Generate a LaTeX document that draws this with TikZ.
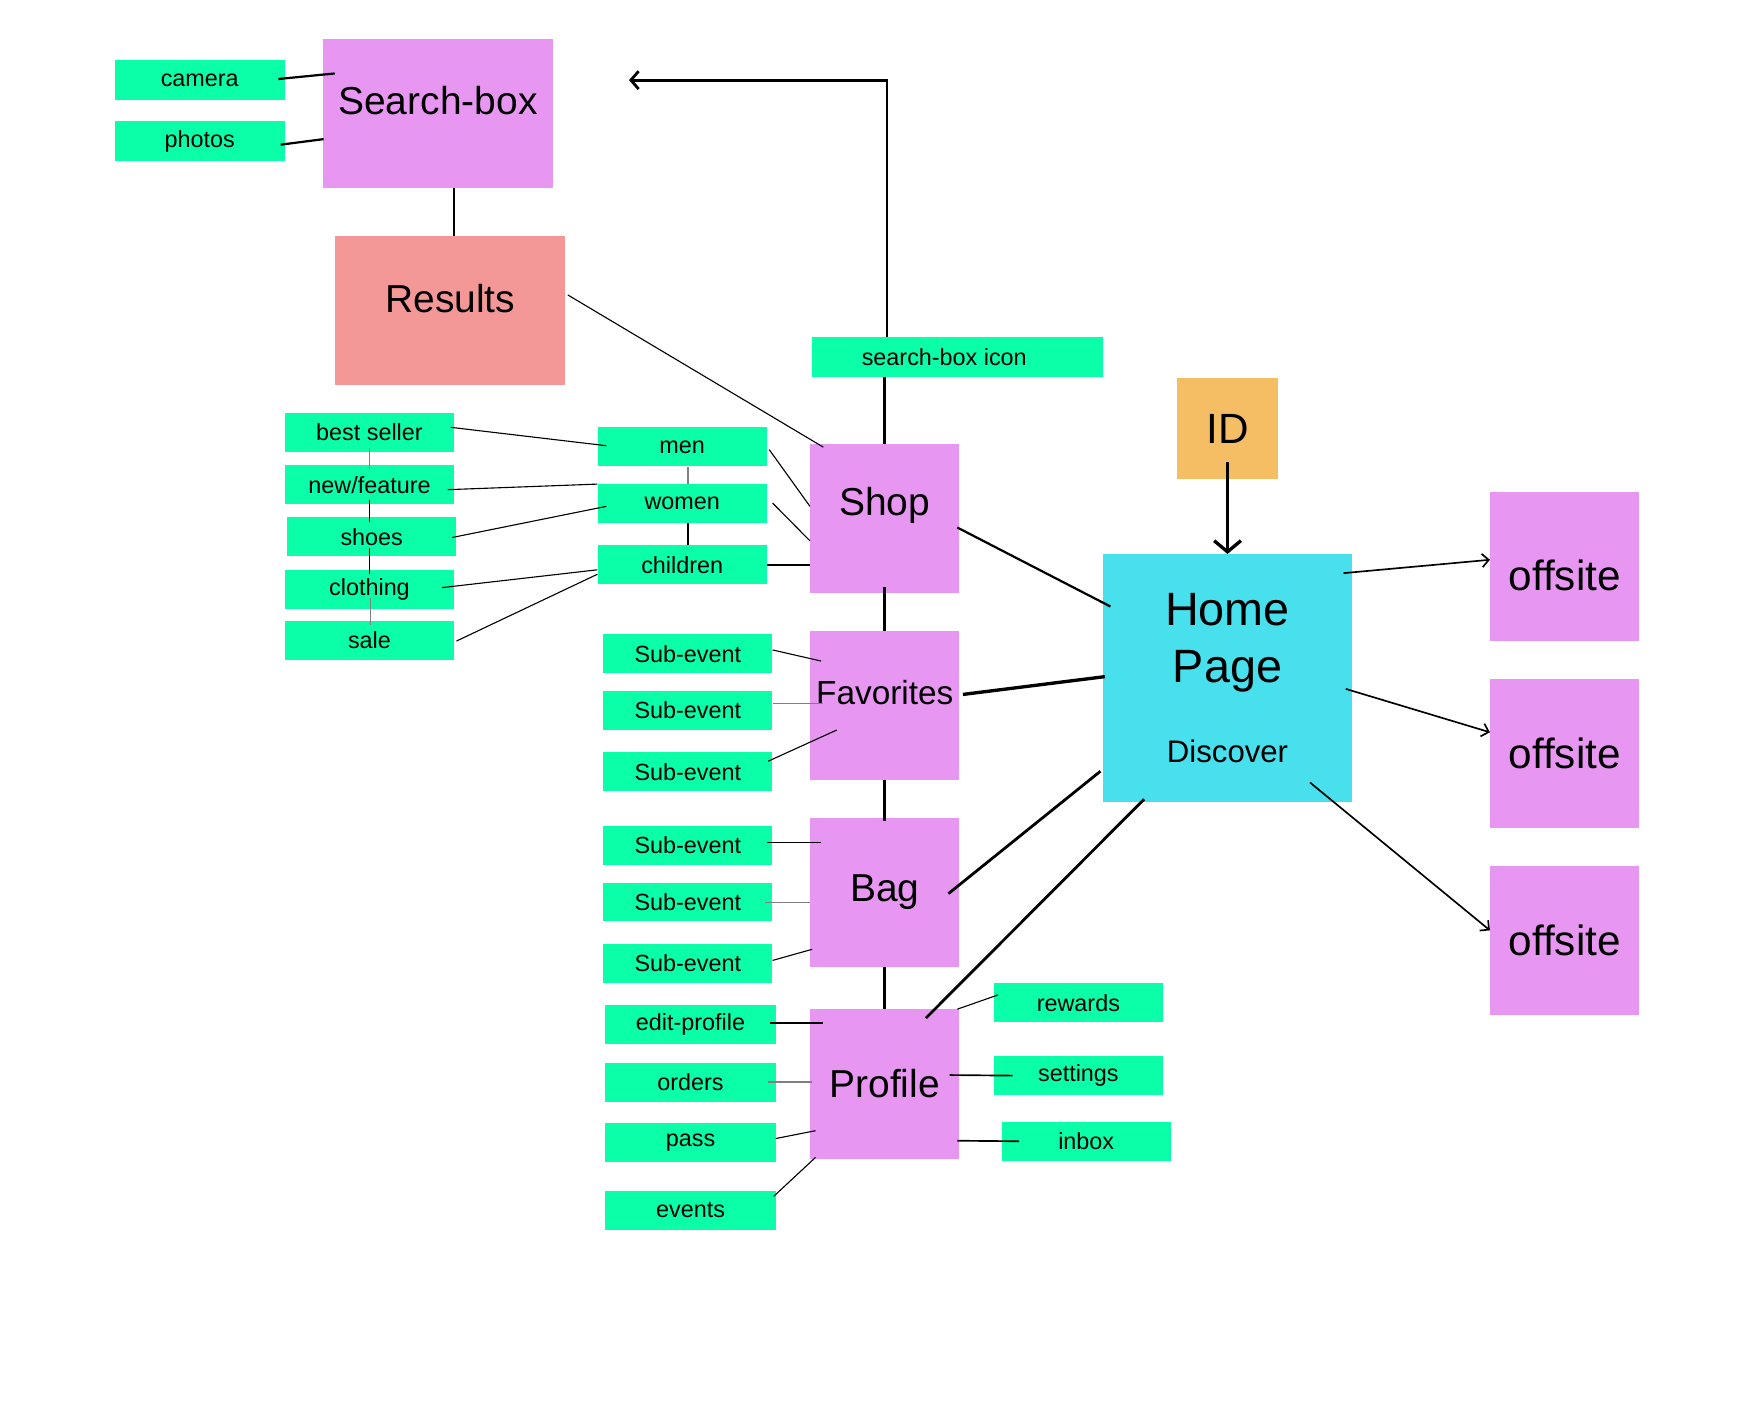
\documentclass[tikz,border=0pt]{standalone}
\usepackage{fontspec}
\setmainfont{Liberation Sans}
\usetikzlibrary{calc,arrows.meta}
\definecolor{boxpink}{RGB}{231,151,242}
\definecolor{tagmint}{RGB}{11,255,169}
\definecolor{respink}{RGB}{244,151,151}
\definecolor{homecyan}{RGB}{71,224,236}
\definecolor{idorange}{RGB}{246,190,100}
\tikzset{
  page/.style={fill=boxpink, minimum width=134pt, minimum height=134pt, inner sep=0pt},
  tag/.style={fill=tagmint, minimum width=152pt, minimum height=35pt, inner sep=0pt, font=\fontsize{21}{25}\selectfont},
  big/.style={font=\fontsize{35}{42}\selectfont},
  link/.style={line width=1pt},
  glink/.style={line width=1.5pt, gray},
  mid/.style={line width=2pt},
  bond/.style={line width=3pt},
}
\begin{document}
\begin{tikzpicture}[x=1pt, y=-1pt, >={Straight Barb[length=6pt,width=12pt]}]
\useasboundingbox (0,0) rectangle (1568,1258);
% search side
\node[page, minimum width=207pt, label={[big,yshift=12pt]center:Search-box}] (search) at (393.5,102) {};
\node[page, fill=respink, minimum width=207pt, label={[big,yshift=11pt]center:Results}] (results) at (404.5,279) {};
\node[tag, minimum width=153pt, minimum height=36pt] (camera) at (179.5,72) {camera};
\node[tag, minimum width=153pt, minimum height=36pt] (photos) at (179.5,127) {photos};
\node[tag, minimum width=261pt, minimum height=36pt, label={[font=\fontsize{21}{25}\selectfont,xshift=-12pt]center:search-box icon}] (icon) at (860.5,321) {};
% main column
\node[page, label={[big,yshift=12pt]center:Shop}] (shop) at (795,466) {};
\node[page, label={[font=\fontsize{30}{36}\selectfont,yshift=12pt]center:Favorites}] (fav) at (795,634) {};
\node[page, label={[big]center:Bag}] (bag) at (795,802) {};
\node[page, label={[big]center:Profile}] (profile) at (795,974) {};
\node[fill=idorange, minimum size=90pt, inner sep=0pt, font=\fontsize{38}{44}\selectfont] (id) at (1103,385) {ID};
\node[fill=homecyan, minimum width=224pt, minimum height=223pt, inner sep=0pt,
  label={[font=\fontsize{42}{51}\selectfont, align=center, yshift=32pt]center:Home\\Page},
  label={[font=\fontsize{28}{34}\selectfont, yshift=-66pt]center:Discover}] (home) at (1103,609.5) {};
\node[page, label={[font=\fontsize{38}{44}\selectfont,yshift=-8pt]center:offsite}] (off1) at (1406,509) {};
\node[page, label={[font=\fontsize{38}{44}\selectfont]center:offsite}] (off2) at (1406,677) {};
\node[page, label={[font=\fontsize{38}{44}\selectfont]center:offsite}] (off3) at (1406,845) {};
% shop tags
\node[tag] (best) at (332,388.5) {best seller};
\node[tag] (newf) at (332,435.5) {new/feature};
\node[tag] (shoes) at (334,482.5) {shoes};
\node[tag] (cloth) at (332,529.5) {clothing};
\node[tag] (sale) at (332,575.5) {sale};
\node[tag] (men) at (613,401.5) {men};
\node[tag] (women) at (613,452.5) {women};
\node[tag] (kids) at (613,507.5) {children};
% sub-events
\node[tag] (fa) at (618,587.5) {Sub-event};
\node[tag] (fb) at (618,638.5) {Sub-event};
\node[tag] (fc) at (618,693.5) {Sub-event};
\node[tag] (ba) at (618,759.5) {Sub-event};
\node[tag] (bb) at (618,810.5) {Sub-event};
\node[tag] (bc) at (618,865.5) {Sub-event};
% profile tags
\node[tag, minimum width=153pt] (edit) at (620.5,920.5) {edit-profile};
\node[tag, minimum width=153pt] (orders) at (620.5,972.5) {orders};
\node[tag, minimum width=153pt] (pass) at (620.5,1026.5) {pass};
\node[tag, minimum width=153pt] (events) at (620.5,1087.5) {events};
\node[tag] (rewards) at (969,901) {rewards};
\node[tag] (settings) at (969,966.5) {settings};
\node[tag] (inbox) at (976,1025.5) {inbox};
% links
\draw[mid] ($(camera.east)+(-6,-1)$) -- ($(search.west)+(11,-36)$);
\draw[mid] ($(photos.east)+(-4,3)$) -- ($(search.west)+(1,23)$);
\draw[mid] ($(search.south)+(14.5,0)$) -- ($(results.north)+(3.5,0)$);
\draw[link] ($(results.east)+(2,-14)$) -- ($(shop.north west)+(12,3)$);
\draw[line width=2.5pt,->,>={Straight Barb[length=7pt,width=16pt]}] ($(icon.north)+(-63.5,0)$) |- ($(search.east)+(68,-30)$);
\draw[bond] (shop.north |- icon.south) -- (shop.north);
\draw[bond,->,>={Straight Barb[length=10pt,width=24pt]}] ($(id.south)+(0,-15)$) -- (home.north);
\draw[mid] ($(shop.east)+(-2,8)$) -- ($(home.west)+(7,-64.5)$);
\draw[bond] ($(fav.east)+(3,-10)$) -- ($(home.west)+(2,-1.5)$);
\draw[line width=2.5pt] ($(bag.east)+(-10,1)$) -- ($(home.west)+(-2,83.5)$);
\draw[line width=2.5pt] ($(profile.north)+(37,8)$) -- ($(home.south)+(-75,-3)$);
\draw[line width=1.5pt,->] ($(home.east)+(-8,-94.5)$) -- ($(off1.west)+(0,-6)$);
\draw[line width=1.5pt,->] ($(home.east)+(-6,9.5)$) -- ($(off2.west)+(0,-19)$);
\draw[line width=1.5pt,->] ($(home.south east)+(-38,-18)$) -- ($(off3.west)+(0,-9)$);
\draw[bond] ($(shop.south)+(0,-6)$) -- (fav.north);
\draw[bond] (fav.south) -- ($(bag.north)+(0,3)$);
\draw[bond] (bag.south) -- (profile.north);
% shop links
\draw[link] ($(men.east)+(2,2.5)$) -- ($(shop.west)+(0,-11)$);
\draw[link] ($(women.east)+(5,-0.5)$) -- ($(shop.west)+(0,20)$);
\draw[line width=1.5pt] (kids.east) -- (kids.east -| shop.west);
\draw[glink] ($(men.south)+(5,0)$) -- ($(women.north)+(5,0)$);
\draw[line width=1.5pt] ($(women.south)+(5,0)$) -- ($(kids.north)+(5,0)$);
\draw[link] ($(best.east)+(-3,-4.5)$) -- ($(men.west)+(8,-1)$);
\draw[link] ($(newf.east)+(-6,4.5)$) -- ($(women.west)+(0,-17.5)$);
\draw[link] ($(shoes.east)+(-4,0.5)$) -- ($(women.west)+(8,2.5)$);
\draw[link] ($(cloth.east)+(-11,-1.5)$) -- ($(kids.west)+(0,4.5)$);
\draw[link] ($(sale.east)+(2,0.5)$) -- ($(kids.west)+(0,8.5)$);
\draw[glink] ($(best.south)+(0,-4)$) -- ($(newf.north)+(0,4)$);
\draw[link] ($(newf.south)+(0,-4)$) -- ($(shoes.north)+(-2,4)$);
\draw[link] ($(shoes.south)+(-2,-8)$) -- ($(cloth.north)+(0,4)$);
\draw[glink] ($(cloth.south)+(1,-10)$) -- ($(sale.north)+(1,4)$);
% sub-event links
\draw[link] ($(fa.east)+(0,-3.5)$) -- ($(fav.west)+(10,-40)$);
\draw[glink] ($(fb.east)+(0,-6.5)$) -- ($(fav.west)+(12,-2)$);
\draw[link] ($(fc.east)+(-4,-9.5)$) -- ($(fav.west)+(24,22)$);
\draw[link] ($(ba.east)+(-5,-2.5)$) -- ($(bag.west)+(10,-45)$);
\draw[glink] ($(bb.east)+(-7,0.5)$) -- ($(bag.west)+(0,9)$);
\draw[link] ($(bc.east)+(0,-2.5)$) -- ($(bag.west)+(2,51)$);
% profile links
\draw[line width=1.5pt] ($(edit.east)+(-5,-1.5)$) -- ($(profile.west)+(12,-55)$);
\draw[glink] ($(orders.east)+(-7,-0.5)$) -- ($(profile.west)+(2,-2)$);
\draw[link] ($(pass.east)+(0,-3.5)$) -- ($(profile.west)+(5,42)$);
\draw[link] ($(events.east)+(-2,-12.5)$) -- ($(profile.west)+(5,66)$);
\draw[link] ($(profile.north east)+(-2,0)$) -- ($(rewards.west)+(4,-7)$);
\draw[line width=1.5pt] ($(profile.east)+(-9,-8)$) -- ($(settings.west)+(17,0)$);
\draw[line width=1.5pt] ($(profile.east)+(-2,51)$) -- ($(inbox.west)+(16,0)$);
\end{tikzpicture}
\end{document}
